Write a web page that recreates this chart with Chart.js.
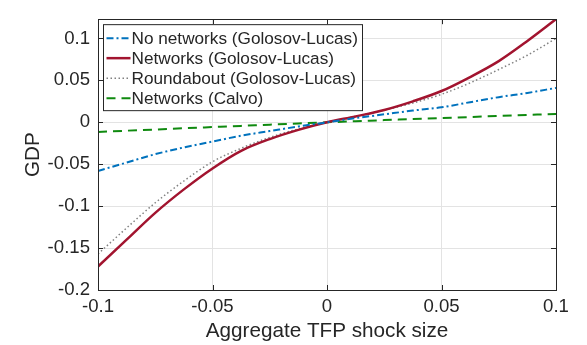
<!DOCTYPE html>
<html>
<head>
<meta charset="utf-8">
<script src="https://cdn.jsdelivr.net/npm/chart.js@4/dist/chart.umd.min.js"></script>
<style>
  html, body { margin: 0; padding: 0; background: #fff; }
  canvas { display: block; }
</style>
</head>
<body>
<canvas id="gdpChart" width="587" height="345"></canvas>
<script>
  // shock sizes on the x axis
  const shocks = [-0.1, -0.0875, -0.075, -0.0625, -0.05, -0.0375, -0.025, -0.0125, 0,
                  0.0125, 0.025, 0.0375, 0.05, 0.0625, 0.075, 0.0875, 0.1];

  // GDP response for each model
  const noNetworksGL = [-0.058, -0.048, -0.038, -0.030, -0.023, -0.016, -0.0105, -0.005, 0,
                        0.005, 0.0095, 0.014, 0.0179, 0.024, 0.030, 0.035, 0.041];
  const networksGL = [-0.172, -0.140, -0.108, -0.080, -0.055, -0.034, -0.020, -0.009, 0,
                      0.007, 0.0147, 0.025, 0.0373, 0.054, 0.073, 0.097, 0.123];
  const roundaboutGL = [-0.157, -0.126, -0.096, -0.070, -0.047, -0.031, -0.018, -0.008, 0,
                        0.007, 0.0145, 0.023, 0.0334, 0.047, 0.063, 0.080, 0.100];
  const networksCalvo = [-0.0115, -0.0100, -0.0086, -0.0071, -0.0057, -0.0043, -0.0028, -0.0014, 0,
                         0.0013, 0.0026, 0.0038, 0.0051, 0.0063, 0.0076, 0.0088, 0.0100];

  const seriesNames = ['No networks (Golosov-Lucas)', 'Networks (Golosov-Lucas)',
                       'Roundabout (Golosov-Lucas)', 'Networks (Calvo)'];
  const yTicks = [-0.2, -0.15, -0.1, -0.05, 0, 0.05, 0.1];
  const xTicks = [-0.1, -0.05, 0, 0.05, 0.1];

  const FONT = "'Liberation Sans', Arial, Helvetica, sans-serif";
  const INK = '#262626';

  function toPoints(ys) {
    return shocks.map((x, i) => ({ x: x, y: ys[i] }));
  }

  // box around the axes plus inward tick marks on all four sides
  const axesBox = {
    id: 'axesBox',
    afterDatasetsDraw(chart) {
      const { ctx, chartArea: a, scales } = chart;
      ctx.save();
      ctx.strokeStyle = INK;
      ctx.lineWidth = 1;
      ctx.beginPath();
      xTicks.forEach(v => {
        const px = Math.round(scales.x.getPixelForValue(v)) + 0.5;
        ctx.moveTo(px, a.bottom); ctx.lineTo(px, a.bottom - 5);
        ctx.moveTo(px, a.top); ctx.lineTo(px, a.top + 5);
      });
      yTicks.forEach(v => {
        const py = Math.round(scales.y.getPixelForValue(v)) + 0.5;
        ctx.moveTo(a.left, py); ctx.lineTo(a.left + 5, py);
        ctx.moveTo(a.right, py); ctx.lineTo(a.right - 5, py);
      });
      ctx.stroke();
      ctx.strokeRect(Math.round(a.left) + 0.5, Math.round(a.top) + 0.5,
                     Math.round(a.right - a.left), Math.round(a.bottom - a.top));
      ctx.restore();
    }
  };

  // boxed legend in the upper left corner of the plot
  const boxLegend = {
    id: 'boxLegend',
    afterDraw(chart) {
      const { ctx, chartArea: a } = chart;
      const x0 = a.left + 5.5, y0 = a.top + 5.5, w = 259, h = 86, row = 20;
      ctx.save();
      ctx.fillStyle = '#fff';
      ctx.fillRect(x0, y0, w, h);
      ctx.strokeStyle = INK;
      ctx.lineWidth = 1;
      ctx.strokeRect(x0, y0, w, h);
      ctx.font = '17.2px ' + FONT;
      ctx.textBaseline = 'middle';
      chart.data.datasets.forEach((ds, i) => {
        const y = y0 + 13.5 + i * row;
        ctx.strokeStyle = ds.borderColor;
        ctx.lineWidth = ds.borderWidth;
        ctx.setLineDash(ds.borderDash || []);
        ctx.beginPath();
        ctx.moveTo(x0 + 3, y);
        ctx.lineTo(x0 + 27, y);
        ctx.stroke();
        ctx.setLineDash([]);
        ctx.fillStyle = INK;
        ctx.fillText(ds.label, x0 + 28, y + 1);
      });
      ctx.restore();
    }
  };

  const ctx = document.getElementById('gdpChart').getContext('2d');
  new Chart(ctx, {
    type: 'line',
    data: {
      datasets: [
        { label: seriesNames[0], data: toPoints(noNetworksGL), borderColor: '#0072BD',
          borderWidth: 2, borderDash: [7, 3, 2, 3] },
        { label: seriesNames[1], data: toPoints(networksGL), borderColor: '#A2142F',
          borderWidth: 2.5 },
        { label: seriesNames[2], data: toPoints(roundaboutGL), borderColor: '#808080',
          borderWidth: 1.5, borderDash: [1.5, 2.5] },
        { label: seriesNames[3], data: toPoints(networksCalvo), borderColor: '#0f8a0f',
          borderWidth: 2, borderDash: [9, 6] }
      ]
    },
    options: {
      responsive: false,
      animation: false,
      layout: { padding: { top: 14, right: 31, left: 0, bottom: 0 } },
      elements: {
        point: { radius: 0 },
        line: { cubicInterpolationMode: 'monotone', fill: false }
      },
      plugins: {
        legend: { display: false },
        tooltip: { enabled: false }
      },
      scales: {
        x: {
          type: 'linear',
          min: -0.1,
          max: 0.1,
          afterBuildTicks: s => { s.ticks = xTicks.map(v => ({ value: v })); },
          afterFit: s => { s.height = 55; },
          grid: { color: '#e3e3e3', drawTicks: false },
          border: { display: false },
          ticks: {
            padding: 6,
            color: INK,
            font: { family: FONT, size: 18.6 },
            maxRotation: 0,
            callback: v => String(+v.toFixed(2))
          },
          title: {
            display: true,
            text: 'Aggregate TFP shock size',
            color: INK,
            font: { family: FONT, size: 20.7 },
            padding: { top: 2, bottom: 1 }
          }
        },
        y: {
          min: -0.2,
          max: 0.123,
          afterBuildTicks: s => { s.ticks = yTicks.map(v => ({ value: v })); },
          afterFit: s => { s.width = 98; },
          grid: { color: '#e3e3e3', drawTicks: false },
          border: { display: false },
          ticks: {
            padding: 8,
            color: INK,
            font: { family: FONT, size: 18.6 },
            callback: v => String(+v.toFixed(2))
          },
          title: {
            display: true,
            text: 'GDP',
            color: INK,
            font: { family: FONT, size: 20.7 },
            padding: { top: 21, bottom: 0 }
          }
        }
      }
    },
    plugins: [axesBox, boxLegend]
  });
</script>
</body>
</html>
